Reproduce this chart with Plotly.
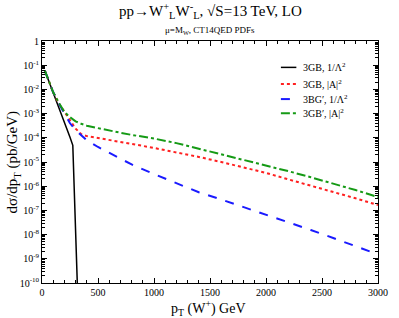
import plotly.graph_objects as go

# transverse momentum grid (GeV)
pt = [25, 50, 100, 150, 200, 250, 300, 350, 400, 500, 600, 700, 800,
      1000, 1200, 1400, 1600, 1800, 2000, 2200, 2400, 2600, 2800, 3000]

# 3GB, 1/Lambda^2 (black, solid)
pt_black = [25, 50, 100, 150, 200, 250, 275, 325]
black_vals = [0.0603, 0.0302, 0.00759, 0.00191, 4.47e-4, 1.05e-4, 4.90e-5, 4.0e-12]

# 3GB, |A|^2 (red, dotted)
red_vals = [0.0603, 0.0282, 0.00741, 0.00263, 0.00117, 5.01e-4, 2.40e-4, 1.41e-4,
            1.17e-4, 9.77e-5, 8.32e-5, 7.08e-5, 5.62e-5, 3.80e-5, 2.51e-5, 1.62e-5,
            1.0e-5, 6.17e-6, 3.55e-6, 1.91e-6, 1.07e-6, 5.89e-7, 3.16e-7, 1.66e-7]

# 3BG', 1/Lambda^2 (blue, dashed)
blue_vals = [0.0603, 0.0282, 0.00759, 0.00263, 1.0e-3, 3.98e-4, 2.09e-4, 1.23e-4,
             7.94e-5, 4.17e-5, 2.34e-5, 1.35e-5, 7.94e-6, 3.16e-6, 1.32e-6, 5.62e-7,
             2.82e-7, 1.38e-7, 6.76e-8, 3.16e-8, 1.55e-8, 7.24e-9, 3.39e-9, 1.51e-9]

# 3GB', |A|^2 (green, dash-dot)
green_vals = [0.0603, 0.0282, 0.00759, 0.00282, 0.00117, 7.08e-4, 4.79e-4, 3.80e-4,
              3.16e-4, 2.51e-4, 2.09e-4, 1.62e-4, 1.32e-4, 9.33e-5, 6.03e-5, 3.55e-5,
              2.04e-5, 1.20e-5, 7.24e-6, 4.17e-6, 2.34e-6, 1.29e-6, 6.92e-7, 3.55e-7]

names = ["3GB, 1/Λ<sup>2</sup>", "3GB, |A|<sup>2</sup>",
         "3BG′, 1/Λ<sup>2</sup>", "3GB′, |A|<sup>2</sup>"]

x_ticks = [0, 500, 1000, 1500, 2000, 2500, 3000]
y_ticks = [1, 1e-1, 1e-2, 1e-3, 1e-4, 1e-5, 1e-6, 1e-7, 1e-8, 1e-9, 1e-10]
y_ticktext = ["1", "10<sup>-1</sup>", "10<sup>-2</sup>", "10<sup>-3</sup>",
              "10<sup>-4</sup>", "10<sup>-5</sup>", "10<sup>-6</sup>", "10<sup>-7</sup>",
              "10<sup>-8</sup>", "10<sup>-9</sup>", "10<sup>-10</sup>"]

FONT = "Liberation Serif, Times New Roman, serif"

styles = [
    dict(color="black", width=1.5, dash="solid"),
    dict(color="#ff2020", width=2, dash="dot"),
    dict(color="#1a1aff", width=2, dash="dash"),
    dict(color="#159a15", width=2, dash="dashdot"),
]

fig = go.Figure()
for xs, ys, nm, st in zip([pt_black, pt, pt, pt],
                          [black_vals, red_vals, blue_vals, green_vals],
                          names, styles):
    fig.add_trace(go.Scatter(x=xs, y=ys, mode="lines", name=nm, line=st,
                             showlegend=False))

# hand-built legend (compact spacing as in the original)
leg_y = [0.891, 0.822, 0.760, 0.701]
shapes = []
annotations = []
for nm, st, yy in zip(names, styles, leg_y):
    shapes.append(dict(type="line", xref="paper", yref="paper",
                       x0=0.711, x1=0.757, y0=yy, y1=yy, line=st))
    annotations.append(dict(text=nm, xref="paper", yref="paper", x=0.772, y=yy,
                            xanchor="left", yanchor="middle", showarrow=False,
                            font=dict(family=FONT, size=10)))

annotations += [
    dict(text="pp→W<sup>+</sup><sub>L</sub>W<sup>-</sup><sub>L</sub>, √S=13 TeV, LO",
         xref="paper", yref="paper", x=0.5, y=1.125, xanchor="center",
         yanchor="middle", showarrow=False, font=dict(family=FONT, size=15)),
    dict(text="μ=M<sub>W</sub>, CT14QED PDFs",
         xref="paper", yref="paper", x=0.5, y=1.045, xanchor="center",
         yanchor="middle", showarrow=False, font=dict(family=FONT, size=9)),
    dict(text="dσ/dp<sub>T</sub> (pb/GeV)", textangle=-90,
         xref="paper", yref="paper", x=-0.085, y=0.5, xanchor="center",
         yanchor="middle", showarrow=False, font=dict(family=FONT, size=15)),
    dict(text="p<sub>T</sub> (W<sup>+</sup>) GeV",
         xref="paper", yref="paper", x=0.495, y=-0.105, xanchor="center",
         yanchor="middle", showarrow=False, font=dict(family=FONT, size=14)),
]

fig.update_layout(
    width=399, height=318,
    margin=dict(l=42, r=11, t=41, b=35),
    paper_bgcolor="white", plot_bgcolor="white",
    font=dict(family=FONT, size=10, color="black"),
    showlegend=False,
    shapes=shapes,
    annotations=annotations,
)

fig.update_xaxes(range=[0, 3000], tickvals=x_ticks, ticks="inside", ticklen=5,
                 tickcolor="black", showline=True, linecolor="black", linewidth=1,
                 mirror="allticks", showgrid=False, zeroline=False,
                 tickfont=dict(family=FONT, size=10),
                 minor=dict(dtick=100, ticks="inside", ticklen=3, tickcolor="black",
                            showgrid=False))
fig.update_yaxes(type="log", range=[-10, 0], tickvals=y_ticks, ticktext=y_ticktext,
                 ticks="inside", ticklen=5, tickcolor="black",
                 showline=True, linecolor="black", linewidth=1,
                 mirror="allticks", showgrid=False, zeroline=False,
                 tickfont=dict(family=FONT, size=10),
                 minor=dict(dtick="D1", ticks="inside", ticklen=3, tickcolor="black",
                            showgrid=False))

fig.write_html("out.html", config={"displayModeBar": False},
               post_script="document.body.style.margin='0';")
